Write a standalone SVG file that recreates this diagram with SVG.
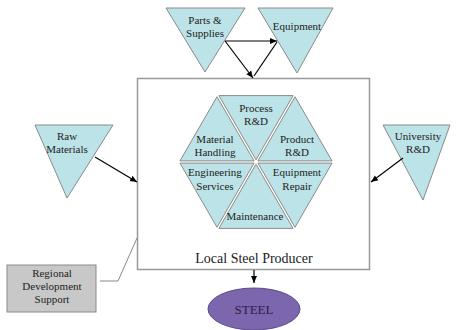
<svg xmlns="http://www.w3.org/2000/svg" width="458" height="330" viewBox="0 0 458 330">
<defs>
<marker id="ah" markerWidth="8" markerHeight="8" refX="7" refY="4" orient="auto" markerUnits="userSpaceOnUse">
<path d="M0,1 L7,4 L0,7 Z" fill="#000"/>
</marker>
<style>
.tri{fill:#bce3e7;stroke:#8a8a8a;stroke-width:1}
.seg{fill:#bce3e7;stroke:#8a8a8a;stroke-width:1}
.t{font-family:"Liberation Serif","Times New Roman",serif;font-size:11px;fill:#222;text-anchor:middle}
.c{stroke:#000;stroke-width:1.2;fill:none}
</style>
</defs>
<rect width="458" height="330" fill="#fff"/>

<g id="producer">
<rect x="137.5" y="78.5" width="232" height="191" fill="#fff" stroke="#999" stroke-width="1.5"/>
<text x="254" y="263" class="t" style="font-size:14px">Local Steel Producer</text>
</g>

<g id="hexagon">
<g id="process-rd"><polygon class="seg" points="256,159.75 218.95,95.6 293.05,95.6"/><text class="t" x="256" y="112">Process</text><text class="t" x="256" y="125">R&amp;D</text></g>
<g id="material-handling"><polygon class="seg" points="254.05,160.9 179.95,160.9 217,96.75"/><text class="t" x="215" y="143">Material</text><text class="t" x="215" y="156">Handling</text></g>
<g id="product-rd"><polygon class="seg" points="257.95,160.9 295,96.75 332.05,160.9"/><text class="t" x="297" y="143">Product</text><text class="t" x="297" y="156">R&amp;D</text></g>
<g id="equipment-repair"><polygon class="seg" points="257.95,163.1 332.05,163.1 295,227.25"/><text class="t" x="297" y="176">Equipment</text><text class="t" x="297" y="190">Repair</text></g>
<g id="maintenance"><polygon class="seg" points="256,164.25 293.05,228.4 218.95,228.4"/><text class="t" x="255" y="220">Maintenance</text></g>
<g id="engineering-services"><polygon class="seg" points="254.05,163.1 217,227.25 179.95,163.1"/><text class="t" x="215" y="176">Engineering</text><text class="t" x="215" y="190">Services</text></g>
</g>

<g id="parts-supplies">
<polygon class="tri" points="166,8 245,8 205,72"/>
<text class="t" x="205" y="24">Parts &amp;</text><text class="t" x="205" y="37">Supplies</text>
</g>
<g id="equipment">
<polygon class="tri" points="258,8 333,8 297,73"/>
<text class="t" x="297" y="30">Equipment</text>
</g>
<g id="raw-materials">
<polygon class="tri" points="35,125 113,125 67,198"/>
<text class="t" x="67" y="140">Raw</text><text class="t" x="67" y="153">Materials</text>
</g>
<g id="university-rd">
<polygon class="tri" points="383,125 450,125 423,200"/>
<text class="t" x="418" y="140">University</text><text class="t" x="418" y="153">R&amp;D</text>
</g>
<g id="regional-support">
<rect x="7" y="265" width="89" height="47" fill="#c8c8c8" stroke="#8a8a8a" stroke-width="1"/>
<text class="t" x="52" y="277">Regional</text><text class="t" x="52" y="290">Development</text><text class="t" x="52" y="303">Support</text>
</g>
<g id="steel">
<ellipse cx="254" cy="309" rx="46" ry="21" fill="#7c66ae" stroke="#5a4a86" stroke-width="1"/>
<text class="t" x="254" y="314" style="font-size:13px;fill:#2a1f45">STEEL</text>
</g>

<g id="connectors">
<line class="c" x1="225" y1="41" x2="277" y2="41" marker-end="url(#ah)"/>
<line class="c" x1="225" y1="41" x2="253" y2="78" marker-end="url(#ah)"/>
<line class="c" x1="277" y1="42" x2="254" y2="76"/>
<line class="c" x1="95" y1="157" x2="137" y2="182" marker-end="url(#ah)"/>
<line class="c" x1="403" y1="158" x2="371" y2="182" marker-end="url(#ah)"/>
<line class="c" x1="254" y1="270" x2="254" y2="283" marker-end="url(#ah)"/>
<polyline points="100,281 118,281 137,238" fill="none" stroke="#888" stroke-width="1"/>
</g>
</svg>
